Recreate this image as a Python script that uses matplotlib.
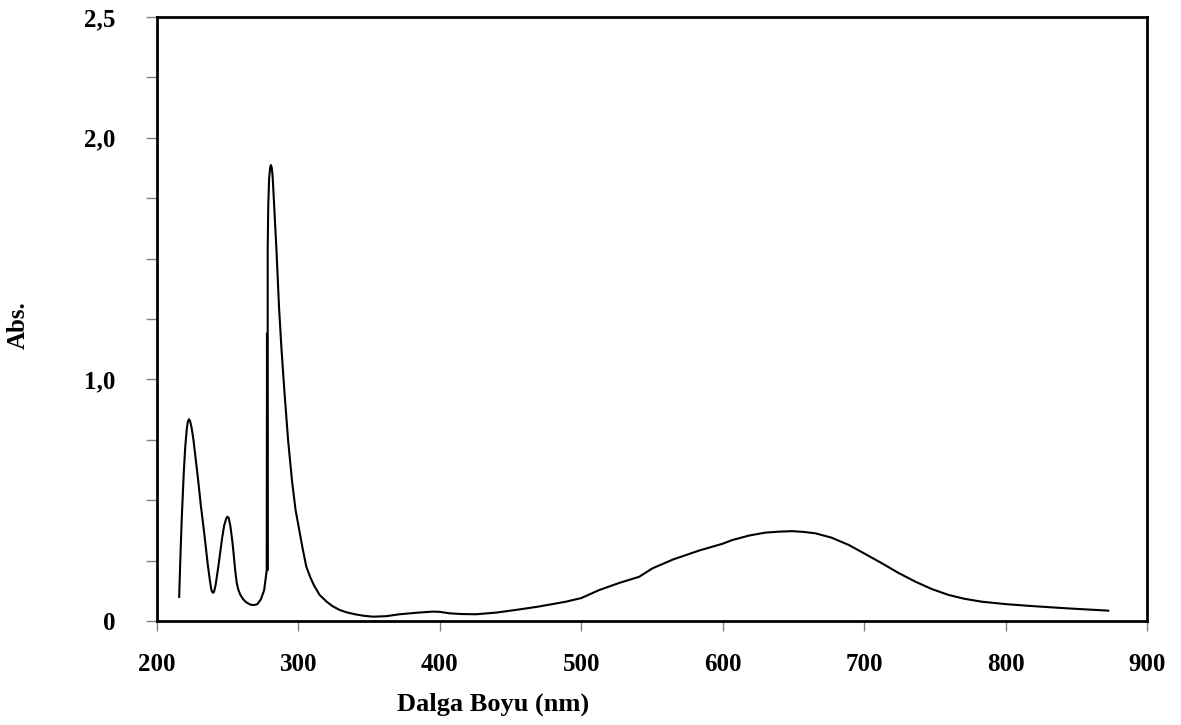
import matplotlib
matplotlib.use("Agg")
import matplotlib.pyplot as plt
from matplotlib.ticker import FixedLocator, FixedFormatter

# Absorbans spektrumu
dalga_boyu = [
    215.7, 216.5, 217.5, 219.0, 220.0, 221.0, 221.8, 222.6, 223.4, 224.5,
    225.8, 227.0, 229.0, 231.0, 233.5, 236.0, 237.5, 238.5, 239.5, 240.3,
    241.5, 243.5, 246.0, 247.5, 249.0, 249.9, 250.8, 252.0, 253.5, 254.5,
    255.5, 256.5, 257.5, 259.0, 261.0, 263.0, 266.0, 268.5, 271.0, 273.5,
    275.8, 277.6,
    277.8, 278.1, 278.3, 278.3, 278.7, 279.3, 280.0, 280.6, 281.2, 281.8,
    282.6, 284.5, 286.3, 288.0, 290.0, 292.7, 295.5, 298.0, 300.5, 303.0,
    305.6, 308.5, 311.0, 315.0, 320.0, 324.0, 329.1, 334.0, 340.0, 346.0,
    352.6, 362.0, 371.5, 385.0, 395.0, 400.0, 406.8, 415.0, 425.6, 440.0,
    453.8, 470.0, 489.1, 500.0, 512.6, 527.0, 540.9, 550.3, 565.0, 583.5,
    600.0, 606.7, 618.8, 630.3, 640.0, 649.1, 657.0, 665.6, 677.0, 689.1,
    700.0, 712.6, 724.0, 736.2, 748.0, 759.7, 771.0, 783.2, 800.0, 818.5,
    845.0, 872.6,
]
absorbans = [
    0.10, 0.25, 0.42, 0.62, 0.72, 0.79, 0.825, 0.835, 0.828, 0.80,
    0.75, 0.69, 0.59, 0.48, 0.36, 0.23, 0.165, 0.128, 0.117, 0.12,
    0.15, 0.23, 0.34, 0.395, 0.425, 0.432, 0.425, 0.39, 0.32, 0.26,
    0.20, 0.155, 0.13, 0.108, 0.09, 0.078, 0.068, 0.066, 0.07, 0.09,
    0.128, 0.21,
    1.19, 0.21, 1.19, 1.54, 1.72, 1.83, 1.875, 1.887, 1.875, 1.84,
    1.75, 1.535, 1.30, 1.13, 0.96, 0.75, 0.58, 0.46, 0.38, 0.30,
    0.225, 0.18, 0.148, 0.108, 0.08, 0.062, 0.046, 0.036, 0.028, 0.022,
    0.018, 0.020, 0.028, 0.035, 0.039, 0.038, 0.032, 0.029, 0.028, 0.035,
    0.046, 0.060, 0.080, 0.095, 0.128, 0.158, 0.183, 0.218, 0.255, 0.292,
    0.320, 0.335, 0.354, 0.366, 0.370, 0.372, 0.369, 0.363, 0.345, 0.315,
    0.28, 0.239, 0.20, 0.163, 0.132, 0.108, 0.092, 0.080, 0.070, 0.062,
    0.052, 0.043,
]

x_ticks = [200, 300, 400, 500, 600, 700, 800, 900]
y_ticks = [0, 0.25, 0.5, 0.75, 1.0, 1.25, 1.5, 1.75, 2.0, 2.25, 2.5]
y_labels = ["0", "", "", "", "1,0", "", "", "", "2,0", "", "2,5"]

plt.rcParams['font.family'] = ['Liberation Serif', 'DejaVu Serif']
plt.rcParams['font.weight'] = 'bold'

fig = plt.figure(figsize=(11.81, 7.25), dpi=100)
ax = fig.add_axes([0.1329, 0.1434, 0.8383, 0.8332])

ax.plot(dalga_boyu, absorbans, color='black', linewidth=1.5)

ax.set_xlim(200, 900)
ax.set_ylim(0, 2.5)
ax.xaxis.set_major_locator(FixedLocator(x_ticks))
ax.yaxis.set_major_locator(FixedLocator(y_ticks))
ax.yaxis.set_major_formatter(FixedFormatter(y_labels))

for s in ax.spines.values():
    s.set_linewidth(2)
    s.set_color('black')

ax.tick_params(axis='x', direction='out', length=7, width=1, color='#808080',
               labelsize=18, pad=16)
ax.tick_params(axis='y', direction='out', length=8, width=1, color='#808080',
               labelsize=18, pad=22)

ax.set_xlabel('Dalga Boyu (nm)', fontsize=19, fontweight='bold')
ax.set_ylabel('Abs.', fontsize=18, fontweight='bold')
ax.xaxis.set_label_coords(0.339, -0.118)
ax.yaxis.set_label_coords(-0.128, 0.49)

fig.savefig('out.png', dpi=100)
